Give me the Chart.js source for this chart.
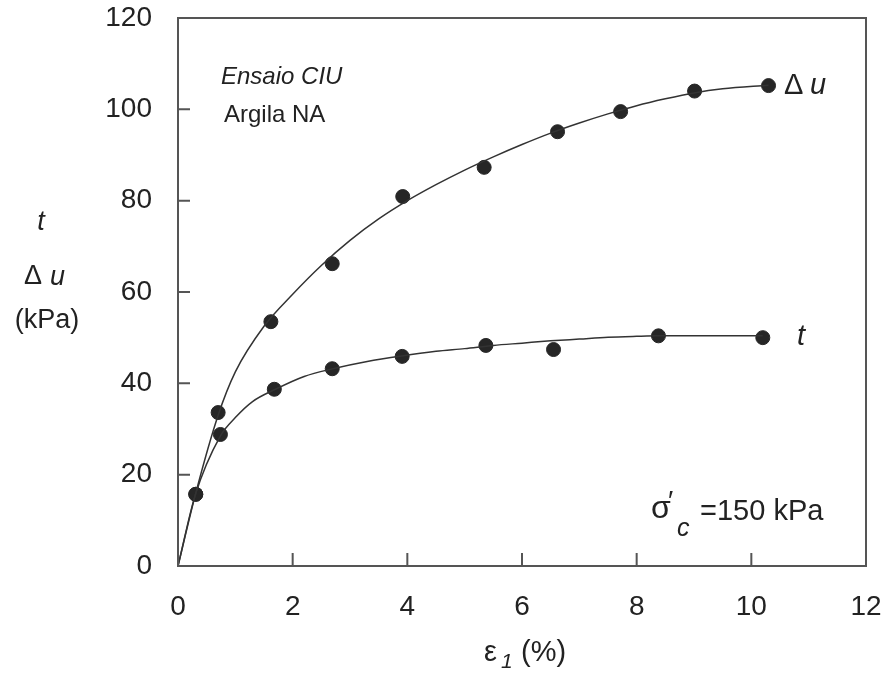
<!DOCTYPE html>
<html>
<head>
<meta charset="utf-8">
<script src="https://cdn.jsdelivr.net/npm/chart.js@4"></script>
<style>
  body { margin: 0; background: #fff; }
  #wrap { width: 884px; height: 673px; }
</style>
</head>
<body>
<div id="wrap"><canvas id="ciuChart" width="884" height="673"></canvas></div>
<script>
// medidos (pontos)
const duX = [0.31, 0.70, 1.62, 2.69, 3.92, 5.34, 6.62, 7.72, 9.01, 10.30];
const duY = [15.7, 33.6, 53.5, 66.2, 80.9, 87.3, 95.1, 99.5, 104.0, 105.2];
const tX = [0.31, 0.74, 1.68, 2.69, 3.91, 5.37, 6.55, 8.38, 10.20];
const tY = [15.7, 28.8, 38.7, 43.2, 45.9, 48.3, 47.4, 50.4, 50.0];

// curvas ajustadas
const duFitX = [0, 0.3, 0.7, 1.0, 1.5, 2.0, 2.5, 3.0, 3.5, 4.0, 4.5, 5.0, 5.5, 6.0, 6.5, 7.0, 7.5, 8.0, 8.5, 9.0, 9.5, 10.3];
const duFitY = [0, 15.5, 33, 42.5, 52.5, 59.5, 65.8, 71.3, 76, 80, 83.5, 86.7, 89.6, 92.3, 94.8, 97, 99, 100.8, 102.3, 103.6, 104.5, 105.3];
const tFitX = [0, 0.3, 0.74, 1.0, 1.3, 1.7, 2.2, 2.7, 3.3, 3.9, 4.5, 5.0, 5.5, 6.0, 6.5, 7.0, 7.5, 8.0, 8.4, 10.2];
const tFitY = [0, 15.5, 28.5, 32.5, 36, 38.7, 41.5, 43.2, 44.8, 46, 47, 47.6, 48.3, 48.8, 49.3, 49.7, 50.1, 50.3, 50.4, 50.4];

const xTicks = [0, 2, 4, 6, 8, 10, 12];
const yTicks = [0, 20, 40, 60, 80, 100, 120];

const toXY = (xs, ys) => xs.map((x, i) => ({ x: x, y: ys[i] }));

const FONT = "'Liberation Sans', Arial, sans-serif";
const INK = '#222';

// bordas + ticks internos + textos
const extras = {
    id: 'extras',
    afterDraw(chart) {
        const { ctx, chartArea: a, scales } = chart;
        ctx.save();
        ctx.strokeStyle = '#555';
        ctx.lineWidth = 2;
        ctx.beginPath();
        ctx.moveTo(a.left, a.top);
        ctx.lineTo(a.right, a.top);
        ctx.lineTo(a.right, a.bottom);
        ctx.stroke();
        // ticks para dentro
        ctx.beginPath();
        xTicks.forEach(v => {
            const px = scales.x.getPixelForValue(v);
            ctx.moveTo(px, a.bottom);
            ctx.lineTo(px, a.bottom - 13);
        });
        yTicks.forEach(v => {
            const py = scales.y.getPixelForValue(v);
            ctx.moveTo(a.left, py);
            ctx.lineTo(a.left + 12, py);
        });
        ctx.stroke();

        ctx.fillStyle = INK;
        ctx.textBaseline = 'middle';
        ctx.textAlign = 'left';
        ctx.font = 'italic 24px ' + FONT;
        ctx.fillText('Ensaio CIU', 221, 77);
        ctx.font = '24px ' + FONT;
        ctx.fillText('Argila NA', 224, 115);

        // rotulos das curvas
        ctx.font = '29px ' + FONT;
        ctx.fillText('\u0394', 784, 86);
        ctx.font = 'italic 29px ' + FONT;
        ctx.fillText('u', 810, 86);
        ctx.fillText('t', 797, 337);

        // sigma'c
        ctx.font = '32px ' + FONT;
        ctx.fillText('\u03C3', 651, 509);
        ctx.font = '28px ' + FONT;
        ctx.fillText('\u2032', 668, 502);
        ctx.font = 'italic 25px ' + FONT;
        ctx.fillText('c', 677, 529);
        ctx.font = '29px ' + FONT;
        ctx.fillText('=150 kPa', 700, 512);

        // titulo eixo y
        ctx.textAlign = 'center';
        ctx.font = 'italic 27px ' + FONT;
        ctx.fillText('t', 41, 222);
        ctx.textAlign = 'left';
        ctx.font = '27px ' + FONT;
        ctx.fillText('\u0394', 24, 277);
        ctx.font = 'italic 27px ' + FONT;
        ctx.fillText('u', 50, 277);
        ctx.textAlign = 'center';
        ctx.font = '27px ' + FONT;
        ctx.fillText('(kPa)', 47, 321);

        // titulo eixo x
        ctx.textAlign = 'left';
        ctx.font = '29px ' + FONT;
        ctx.fillText('\u03B5', 484, 653);
        ctx.font = 'italic 21px ' + FONT;
        ctx.fillText('1', 501, 662);
        ctx.font = '29px ' + FONT;
        ctx.fillText('(%)', 521, 653);
        ctx.restore();
    }
};

new Chart(document.getElementById('ciuChart').getContext('2d'), {
    type: 'scatter',
    data: {
        datasets: [
            {
                label: 'du fit', data: toXY(duFitX, duFitY), showLine: true,
                borderColor: '#333', borderWidth: 1.5, pointRadius: 0,
                cubicInterpolationMode: 'monotone'
            },
            {
                label: 't fit', data: toXY(tFitX, tFitY), showLine: true,
                borderColor: '#333', borderWidth: 1.5, pointRadius: 0,
                cubicInterpolationMode: 'monotone'
            },
            {
                label: 'du', data: toXY(duX, duY), pointRadius: 7,
                backgroundColor: '#262626', borderColor: '#262626', borderWidth: 1
            },
            {
                label: 't', data: toXY(tX, tY), pointRadius: 7,
                backgroundColor: '#262626', borderColor: '#262626', borderWidth: 1
            }
        ]
    },
    options: {
        responsive: false,
        animation: false,
        layout: { padding: { top: 18, right: 18, left: 0, bottom: 0 } },
        plugins: { legend: { display: false }, tooltip: { enabled: false } },
        scales: {
            x: {
                type: 'linear', min: 0, max: 12,
                afterFit: s => { s.height = 107; s.paddingLeft = 0; s.paddingRight = 0; },
                afterBuildTicks: s => { s.ticks = xTicks.map(v => ({ value: v })); },
                grid: { display: false, drawTicks: false },
                border: { display: true, color: '#555', width: 2 },
                ticks: { padding: 24, color: INK, font: { family: FONT, size: 28 } }
            },
            y: {
                type: 'linear', min: 0, max: 120,
                afterFit: s => { s.width = 178; s.paddingTop = 0; s.paddingBottom = 0; },
                afterBuildTicks: s => { s.ticks = yTicks.map(v => ({ value: v })); },
                grid: { display: false, drawTicks: false },
                border: { display: true, color: '#555', width: 2 },
                ticks: { padding: 26, color: INK, font: { family: FONT, size: 28 } }
            }
        }
    },
    plugins: [extras]
});
</script>
</body>
</html>
